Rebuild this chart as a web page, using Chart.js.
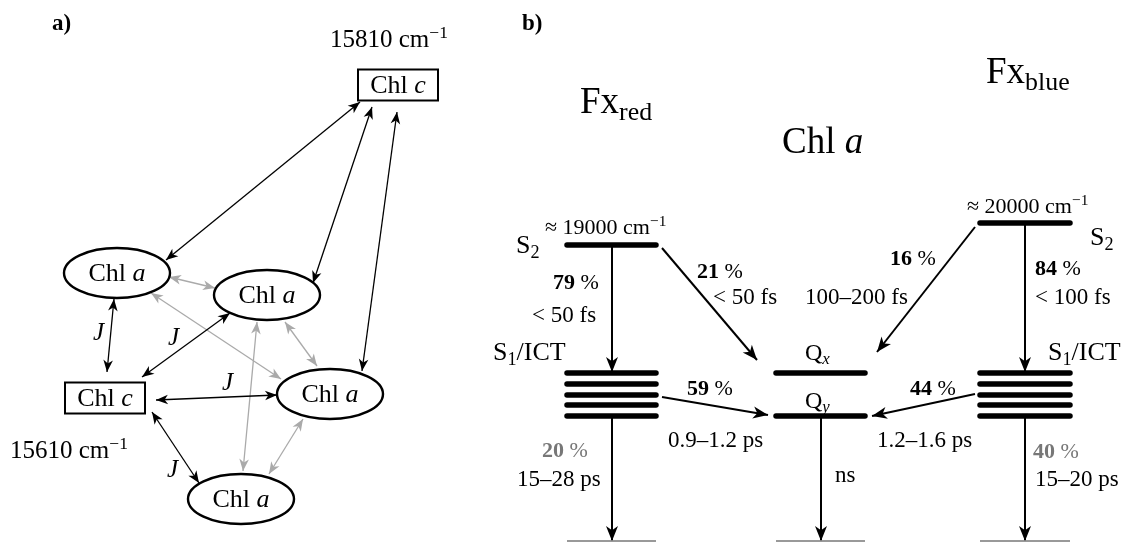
<!DOCTYPE html>
<html>
<head>
<meta charset="utf-8">
<script src="https://cdn.jsdelivr.net/npm/chart.js@4.4.1/dist/chart.umd.min.js"></script>
<style>
html, body { margin: 0; padding: 0; background: #fff; }
#diagram { display: block; }
</style>
</head>
<body>
<canvas id="diagram" width="1129" height="542"></canvas>
<script>
// ---- panel a: pigment network (diagram units = picture units) ----
let chlANodes = [[117, 273], [267, 295], [330, 394], [241, 499]];
let chlCNodes = [[398, 85], [105, 398]];
let energyLabels = [[330, 47, '15810 cm^{−1}'], [10, 458, '15610 cm^{−1}']];

// black: Chl c <-> Chl a transfer, double headed
let transferArrows = [
    [360, 102, 166, 260], [372, 107, 313, 283], [397, 112, 362, 371],
    [114, 299, 107, 372], [142, 377, 230, 313], [156, 400, 277, 395], [152, 412, 199, 483]
];
// grey: Chl a <-> Chl a
let couplingArrows = [
    [169, 277, 215, 288], [151, 293, 281, 379], [257, 322, 243, 471],
    [285, 322, 317, 366], [303, 419, 269, 474]
];
let couplingLabels = [[93, 340], [168, 345], [222, 390], [167, 477]];

// ---- panel b: level scheme ----
let levelBars = [
    [567, 656, 245], [980, 1070, 223],
    [567, 656, 373], [567, 656, 384], [567, 656, 395], [567, 656, 405], [567, 656, 416],
    [980, 1070, 373], [980, 1070, 384], [980, 1070, 395], [980, 1070, 405], [980, 1070, 416],
    [776, 865, 373], [776, 865, 416]
];
let groundBars = [[567, 656, 541], [776, 865, 541], [980, 1070, 541]];
let relaxArrows = [
    [612, 247, 612, 372], [662, 248, 757, 360], [975, 227, 877, 352], [1025, 225, 1025, 372],
    [662, 397, 768, 415], [975, 394, 872, 416],
    [612, 418, 612, 541], [821, 418, 821, 541], [1025, 418, 1025, 541]
];

let panelTags = [[52, 30, '*a)*'], [522, 30, '*b)*']];
let columnTitles = [[580, 113, 'Fx_{red}'], [782, 153, 'Chl ~a~'], [986, 83, 'Fx_{blue}']];
let stateLabels = [[516, 253, 'S_{2}'], [1090, 245, 'S_{2}'], [493, 360, 'S_{1}/ICT'], [1048, 360, 'S_{1}/ICT']];
let qLabels = [[805, 360, 'Q_{~x~}'], [805, 408, 'Q_{~y~}']];
let levelEnergies = [[545, 234, '≈ 19000 cm^{−1}'], [967, 213, '≈ 20000 cm^{−1}']];
let yieldLabels = [
    [553, 289, '*79* %'], [697, 278, '*21* %'], [890, 265, '*16* %'], [1035, 275, '*84* %'],
    [687, 395, '*59* %'], [910, 395, '*44* %']
];
let decayYields = [[542, 457, '*20* %'], [1033, 458, '*40* %']];
let timeLabels = [
    [532, 322, '< 50 fs'], [713, 304, '< 50 fs'], [805, 304, '100–200 fs'], [1035, 304, '< 100 fs'],
    [668, 447, '0.9–1.2 ps'], [877, 447, '1.2–1.6 ps'],
    [517, 486, '15–28 ps'], [835, 482, 'ns'], [1035, 486, '15–20 ps']
];

const SERIF = '"Liberation Serif", "Times New Roman", serif';

function segment(x0, y0, x1, y1, color, width, extra) {
    return Object.assign({
        data: [{ x: x0, y: y0 }, { x: x1, y: y1 }],
        showLine: true,
        borderColor: color,
        borderWidth: width,
        pointRadius: 0,
        pointHoverRadius: 0
    }, extra || {});
}

let datasets = [];
levelBars.forEach(b => datasets.push(segment(b[0], b[2], b[1], b[2], '#000', 5.5, { borderCapStyle: 'round' })));
groundBars.forEach(b => datasets.push(segment(b[0], b[2], b[1], b[2], '#999', 2)));
transferArrows.forEach(a => datasets.push(segment(a[0], a[1], a[2], a[3], '#000', 1.3, { head: 'both', headLen: 12, headHalf: 4.8 })));
couplingArrows.forEach(a => datasets.push(segment(a[0], a[1], a[2], a[3], '#aaa', 1.3, { head: 'both', headLen: 12, headHalf: 4.8 })));
relaxArrows.forEach(a => datasets.push(segment(a[0], a[1], a[2], a[3], '#000', 2, { head: 'end', headLen: 15, headHalf: 6 })));

function arrowHead(ctx, x0, y0, x1, y1, len, half, color) {
    let ang = Math.atan2(y1 - y0, x1 - x0);
    ctx.save();
    ctx.translate(x1, y1);
    ctx.rotate(ang);
    ctx.fillStyle = color;
    ctx.beginPath();
    ctx.moveTo(0, 0);
    ctx.lineTo(-len, half);
    ctx.lineTo(-len * 0.72, 0);
    ctx.lineTo(-len, -half);
    ctx.closePath();
    ctx.fill();
    ctx.restore();
}

// tiny markup: *bold*  ~italic~  _{sub}  ^{sup}
function parseRich(str) {
    let runs = [], bold = false, italic = false, i = 0;
    while (i < str.length) {
        let c = str[i];
        if (c === '*') { bold = !bold; i++; continue; }
        if (c === '~') { italic = !italic; i++; continue; }
        if ((c === '_' || c === '^') && str[i + 1] === '{') {
            let end = str.indexOf('}', i);
            let t = str.slice(i + 2, end), it = italic;
            if (t[0] === '~') { t = t.replace(/~/g, ''); it = true; }
            runs.push({ t: t, bold: bold, italic: it, shift: c });
            i = end + 1;
            continue;
        }
        let j = i;
        while (j < str.length && '*~_^'.indexOf(str[j]) < 0) j++;
        if (j === i) j = i + 1;
        runs.push({ t: str.slice(i, j), bold: bold, italic: italic, shift: '' });
        i = j;
    }
    return runs;
}

function runFont(r, size) {
    let s = r.shift ? size * 0.7 : size;
    return (r.italic ? 'italic ' : '') + (r.bold ? 'bold ' : '') + s.toFixed(1) + 'px ' + SERIF;
}

function drawRich(ctx, str, x, y, size, color, align) {
    let runs = parseRich(str);
    ctx.save();
    ctx.textBaseline = 'alphabetic';
    ctx.textAlign = 'left';
    ctx.fillStyle = color;
    let total = 0;
    runs.forEach(r => { ctx.font = runFont(r, size); r.w = ctx.measureText(r.t).width; total += r.w; });
    let cx = align === 'center' ? x - total / 2 : x;
    runs.forEach(r => {
        ctx.font = runFont(r, size);
        let dy = r.shift === '_' ? size * 0.18 : (r.shift === '^' ? -size * 0.38 : 0);
        ctx.fillText(r.t, cx, y + dy);
        cx += r.w;
    });
    ctx.restore();
}

const diagramPlugin = {
    id: 'diagram',
    afterDatasetsDraw(chart) {
        let ctx = chart.ctx;
        let xs = chart.scales.x, ys = chart.scales.y;
        let px = v => xs.getPixelForValue(v), py = v => ys.getPixelForValue(v);

        // arrow heads on top of the shafts drawn by the line datasets
        chart.data.datasets.forEach((ds, i) => {
            if (!ds.head) return;
            let p = chart.getDatasetMeta(i).data;
            arrowHead(ctx, p[0].x, p[0].y, p[1].x, p[1].y, ds.headLen, ds.headHalf, ds.borderColor);
            if (ds.head === 'both') arrowHead(ctx, p[1].x, p[1].y, p[0].x, p[0].y, ds.headLen, ds.headHalf, ds.borderColor);
        });

        // pigments
        ctx.save();
        ctx.strokeStyle = '#000';
        ctx.lineWidth = 2.4;
        chlANodes.forEach(n => {
            let cx = px(n[0]), cy = py(n[1]);
            ctx.beginPath();
            ctx.ellipse(cx, cy, px(n[0] + 53) - cx, py(n[1] + 25) - cy, 0, 0, Math.PI * 2);
            ctx.stroke();
            drawRich(ctx, 'Chl ~a~', cx, cy + 8, 26, '#000', 'center');
        });
        ctx.lineWidth = 2;
        chlCNodes.forEach(n => {
            let x0 = px(n[0] - 40), y0 = py(n[1] - 15.5);
            ctx.strokeRect(x0, y0, px(n[0] + 40) - x0, py(n[1] + 15.5) - y0);
            drawRich(ctx, 'Chl ~c~', px(n[0]), py(n[1]) + 8, 26, '#000', 'center');
        });
        ctx.restore();

        let put = (list, size, color) => list.forEach(l => drawRich(ctx, l[2], px(l[0]), py(l[1]), size, color, 'left'));
        put(panelTags, 23, '#000');
        put(energyLabels, 25, '#000');
        couplingLabels.forEach(l => drawRich(ctx, '~J~', px(l[0]), py(l[1]), 25, '#000', 'left'));
        put(columnTitles, 37, '#000');
        put(stateLabels, 26, '#000');
        put(qLabels, 24, '#000');
        put(levelEnergies, 22, '#000');
        put(yieldLabels, 22, '#000');
        put(decayYields, 22, '#777');
        put(timeLabels, 23, '#000');
    }
};

new Chart(document.getElementById('diagram'), {
    type: 'scatter',
    data: { datasets: datasets },
    options: {
        responsive: false,
        animation: false,
        events: [],
        layout: { padding: 0 },
        plugins: {
            legend: { display: false },
            tooltip: { enabled: false }
        },
        scales: {
            x: { type: 'linear', min: 0, max: 1129, display: false },
            y: { type: 'linear', min: 0, max: 542, reverse: true, display: false }
        }
    },
    plugins: [diagramPlugin]
});
</script>
</body>
</html>
